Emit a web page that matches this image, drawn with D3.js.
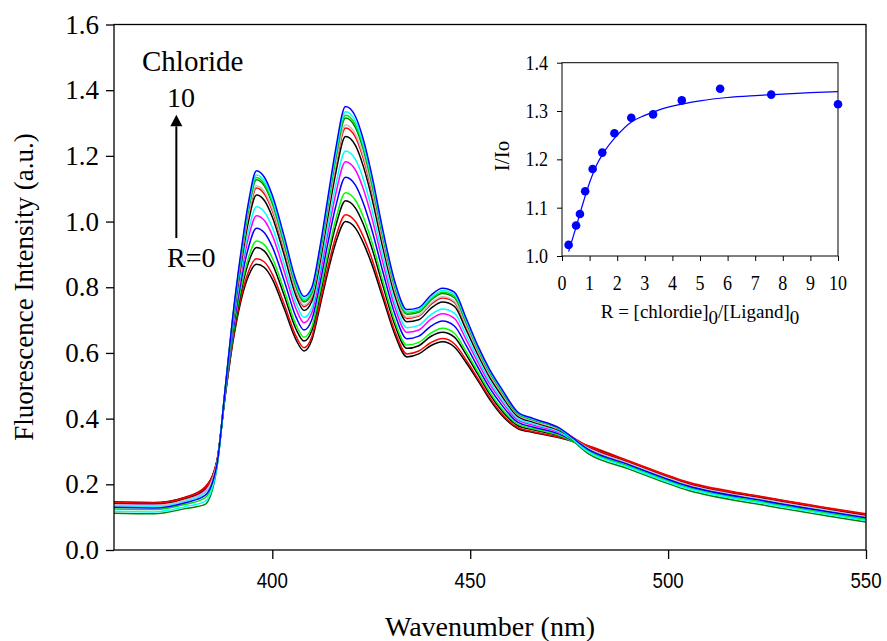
<!DOCTYPE html>
<html><head><meta charset="utf-8">
<script src="https://cdn.jsdelivr.net/npm/d3@7"></script>
<style>body{margin:0;background:#fff}svg{display:block}</style>
</head><body>
<svg id="chart" width="887" height="641"></svg>
<script>
// ---- main spectra data ----
const wavelength = [360,370,378,383,386,388,390,392,394,396,398,400,403,406,408,410,412,414,416,418.5,421,423,425,428,431,434,437,440,443,446,449,452,455,458,462,466,472,480,490,505,525,550];

const s00 = [0.146,0.144,0.160,0.190,0.270,0.460,0.630,0.755,0.835,0.870,0.860,0.825,0.735,0.640,0.606,0.640,0.740,0.845,0.935,1.000,0.980,0.935,0.875,0.765,0.655,0.588,0.597,0.622,0.634,0.618,0.570,0.515,0.457,0.410,0.370,0.358,0.343,0.315,0.270,0.205,0.158,0.108];
const s01 = [0.147,0.145,0.161,0.192,0.271,0.461,0.635,0.764,0.849,0.887,0.877,0.840,0.748,0.651,0.616,0.650,0.751,0.859,0.952,1.021,1.000,0.954,0.892,0.777,0.665,0.597,0.606,0.631,0.644,0.628,0.578,0.521,0.463,0.415,0.373,0.360,0.345,0.317,0.272,0.207,0.160,0.110];
const s02 = [0.145,0.143,0.159,0.189,0.269,0.464,0.644,0.781,0.876,0.921,0.910,0.871,0.775,0.672,0.636,0.669,0.772,0.886,0.986,1.063,1.041,0.992,0.925,0.802,0.684,0.614,0.622,0.650,0.663,0.648,0.594,0.534,0.473,0.424,0.379,0.366,0.349,0.314,0.269,0.204,0.157,0.107];
const s03 = [0.142,0.140,0.156,0.184,0.268,0.465,0.650,0.791,0.891,0.941,0.929,0.889,0.790,0.685,0.648,0.680,0.785,0.901,1.006,1.088,1.065,1.014,0.944,0.816,0.695,0.624,0.632,0.660,0.675,0.660,0.604,0.541,0.480,0.430,0.383,0.369,0.351,0.307,0.262,0.197,0.150,0.100];
const s04 = [0.138,0.136,0.152,0.178,0.265,0.468,0.661,0.811,0.922,0.980,0.966,0.923,0.820,0.709,0.670,0.702,0.809,0.932,1.045,1.135,1.111,1.056,0.981,0.844,0.717,0.643,0.651,0.681,0.697,0.682,0.622,0.555,0.492,0.441,0.389,0.374,0.355,0.307,0.262,0.197,0.150,0.100];
const s05 = [0.140,0.138,0.154,0.181,0.266,0.470,0.672,0.830,0.952,1.018,1.003,0.958,0.849,0.734,0.692,0.723,0.834,0.962,1.083,1.182,1.157,1.099,1.018,0.872,0.738,0.663,0.670,0.702,0.719,0.705,0.640,0.570,0.504,0.452,0.396,0.380,0.360,0.309,0.264,0.199,0.152,0.102];
const s06 = [0.135,0.133,0.149,0.174,0.263,0.472,0.679,0.844,0.973,1.045,1.029,0.982,0.870,0.751,0.708,0.738,0.851,0.983,1.110,1.215,1.189,1.129,1.044,0.891,0.753,0.677,0.684,0.716,0.734,0.721,0.653,0.580,0.513,0.459,0.401,0.384,0.363,0.301,0.256,0.191,0.144,0.094];
const s07 = [0.143,0.141,0.157,0.186,0.268,0.475,0.689,0.862,1.002,1.081,1.064,1.014,0.898,0.773,0.729,0.758,0.873,1.012,1.146,1.259,1.232,1.168,1.079,0.917,0.773,0.695,0.701,0.735,0.755,0.742,0.670,0.593,0.524,0.469,0.407,0.389,0.367,0.313,0.268,0.203,0.156,0.106];
const s08 = [0.145,0.143,0.159,0.189,0.269,0.476,0.695,0.873,1.018,1.102,1.084,1.033,0.914,0.787,0.741,0.770,0.887,1.028,1.167,1.285,1.257,1.192,1.099,0.932,0.785,0.705,0.712,0.747,0.767,0.754,0.680,0.601,0.531,0.475,0.411,0.392,0.369,0.315,0.270,0.205,0.158,0.108];
const s09 = [0.138,0.136,0.152,0.178,0.265,0.477,0.697,0.877,1.024,1.109,1.091,1.039,0.920,0.791,0.745,0.774,0.891,1.034,1.174,1.294,1.266,1.200,1.106,0.937,0.789,0.709,0.715,0.751,0.771,0.758,0.683,0.603,0.533,0.477,0.412,0.393,0.370,0.309,0.264,0.199,0.152,0.102];
const s10 = [0.112,0.110,0.126,0.139,0.250,0.478,0.702,0.886,1.038,1.127,1.108,1.055,0.933,0.802,0.755,0.784,0.902,1.048,1.192,1.315,1.286,1.219,1.123,0.950,0.799,0.718,0.724,0.760,0.781,0.768,0.692,0.610,0.539,0.482,0.415,0.396,0.372,0.292,0.247,0.182,0.135,0.085];
const s11 = [0.125,0.123,0.139,0.159,0.257,0.479,0.704,0.889,1.043,1.134,1.114,1.061,0.939,0.807,0.760,0.788,0.907,1.053,1.199,1.324,1.295,1.226,1.129,0.955,0.803,0.721,0.727,0.764,0.785,0.773,0.695,0.612,0.541,0.484,0.416,0.397,0.373,0.300,0.255,0.190,0.143,0.093];
const s12 = [0.118,0.116,0.132,0.148,0.253,0.479,0.706,0.894,1.050,1.142,1.123,1.069,0.945,0.812,0.765,0.793,0.912,1.060,1.207,1.334,1.305,1.236,1.138,0.961,0.808,0.726,0.732,0.768,0.790,0.778,0.699,0.615,0.544,0.487,0.418,0.398,0.374,0.297,0.252,0.187,0.140,0.090];
const s13 = [0.130,0.128,0.144,0.166,0.260,0.480,0.710,0.900,1.060,1.155,1.135,1.080,0.955,0.820,0.772,0.800,0.920,1.070,1.220,1.350,1.320,1.250,1.150,0.970,0.815,0.732,0.738,0.775,0.797,0.785,0.705,0.620,0.548,0.490,0.420,0.400,0.375,0.305,0.260,0.195,0.148,0.098];

const spectra = [s00,s01,s02,s03,s04,s05,s06,s07,s08,s09,s10,s11,s12,s13];
const lineColors = ["#000000","#ff0000","#000000","#00ff00","#0000ff","#ff00ff","#00ffff","#000000","#ff0000","#c0c0c0","#008000","#00e000","#00ffff","#0000ff"];

const mainXTicks = [400,450,500,550];
const mainYTicks = [0.0,0.2,0.4,0.6,0.8,1.0,1.2,1.4,1.6];

// ---- inset data ----
const ratioR = [0.24,0.51,0.65,0.84,1.11,1.46,1.90,2.51,3.30,4.34,5.73,7.58,10.0];
const ratioI = [1.023,1.063,1.087,1.134,1.180,1.214,1.254,1.286,1.293,1.322,1.346,1.334,1.314];
const fitR = [0.24,0.5,0.75,1,1.25,1.5,2,2.5,3,3.5,4,5,6,7,8,9,10];
const fitI = [1.009,1.058,1.107,1.152,1.188,1.213,1.250,1.277,1.291,1.302,1.310,1.321,1.328,1.332,1.335,1.338,1.340];
const insetXTicks = [0,1,2,3,4,5,6,7,8,9,10];
const insetYTicks = [1.0,1.1,1.2,1.3,1.4];

const SERIF = "'Liberation Serif','Times New Roman',serif";
const SANS = "'Liberation Sans',Arial,sans-serif";

const svg = d3.select("#chart");

function label(parent, x, y, s, o) {
  o = Object.assign({size:20, anchor:"middle", family:SERIF, sx:1, rot:0}, o||{});
  return parent.append("text")
    .attr("transform", `translate(${x},${y}) rotate(${o.rot}) scale(${o.sx},1)`)
    .attr("text-anchor", o.anchor)
    .attr("font-family", o.family)
    .attr("font-size", o.size)
    .attr("fill", "#000")
    .text(s);
}

// ---- main plot ----
const X = d3.scaleLinear().domain([360,550]).range([114,866]);
const Y = d3.scaleLinear().domain([0,1.6]).range([550,24.5]);

svg.append("defs").append("clipPath").attr("id","clipMain")
  .append("rect").attr("x",X(360)).attr("y",Y(1.6)).attr("width",X(550)-X(360)).attr("height",Y(0)-Y(1.6));

const line = d3.line().x((d,i)=>X(wavelength[i])).y(d=>Y(d)).curve(d3.curveMonotoneX);
const gLines = svg.append("g").attr("clip-path","url(#clipMain)");
spectra.forEach((s,k)=>{
  gLines.append("path").attr("d", line(s)).attr("fill","none")
    .attr("stroke", lineColors[k]).attr("stroke-width",1.5).attr("stroke-linejoin","round");
});

// frame
svg.append("rect").attr("x",X(360)).attr("y",Y(1.6)).attr("width",X(550)-X(360)).attr("height",Y(0)-Y(1.6))
  .attr("fill","none").attr("stroke","#000").attr("stroke-width",1.3);

const ax = svg.append("g").attr("transform",`translate(0,${Y(0)})`)
  .call(d3.axisBottom(X).tickValues(mainXTicks).tickSize(9).tickSizeOuter(0).tickFormat(d3.format("d")));
ax.select(".domain").remove();
ax.selectAll("line").attr("stroke","#000").attr("stroke-width",1.3);
ax.selectAll("text").remove();
mainXTicks.forEach(t=>label(svg, X(t), 588, d3.format("d")(t), {size:22, family:SANS, sx:0.85}));

const ay = svg.append("g").attr("transform",`translate(${X(360)},0)`)
  .call(d3.axisLeft(Y).tickValues(mainYTicks).tickSize(8).tickSizeOuter(0));
ay.select(".domain").remove();
ay.selectAll("line").attr("stroke","#000").attr("stroke-width",1.3);
ay.selectAll("text").remove();
mainYTicks.forEach(t=>label(svg, 99, Y(t)+9, d3.format(".1f")(t), {size:27, anchor:"end"}));

label(svg, 490, 636, "Wavenumber (nm)", {size:28});
label(svg, 33, 287, "Fluorescence Intensity (a.u.)", {size:27, rot:-90});

// annotation
label(svg, 142, 71, "Chloride", {size:29, anchor:"start"});
label(svg, 181, 107, "10", {size:28});
label(svg, 167, 267, "R=0", {size:28, anchor:"start"});
const ax0 = X(375.75);
svg.append("line").attr("x1",ax0).attr("x2",ax0).attr("y1",Y(0.95)).attr("y2",Y(1.29))
  .attr("stroke","#000").attr("stroke-width",2);
svg.append("path").attr("d",`M${ax0},${Y(1.325)} L${ax0-6},${Y(1.29)} L${ax0+6},${Y(1.29)} Z`).attr("fill","#000");

// ---- inset ----
const xi = d3.scaleLinear().domain([0,10]).range([562,838]);
const yi = d3.scaleLinear().domain([1.0,1.4]).range([256,62.7]);

svg.append("rect").attr("x",xi(0)).attr("y",yi(1.4)).attr("width",xi(10)-xi(0)).attr("height",yi(1.0)-yi(1.4))
  .attr("fill","none").attr("stroke","#000").attr("stroke-width",1);

const ix = svg.append("g").attr("transform",`translate(0,${yi(1.0)})`)
  .call(d3.axisBottom(xi).tickValues(insetXTicks).tickSize(5).tickSizeOuter(0));
ix.select(".domain").remove(); ix.selectAll("text").remove();
ix.selectAll("line").attr("stroke","#000");
insetXTicks.forEach(t=>label(svg, xi(t), 290, String(t), {size:20, sx:0.9}));

const iy = svg.append("g").attr("transform",`translate(${xi(0)},0)`)
  .call(d3.axisLeft(yi).tickValues(insetYTicks).tickSize(5).tickSizeOuter(0));
iy.select(".domain").remove(); iy.selectAll("text").remove();
iy.selectAll("line").attr("stroke","#000");
insetYTicks.forEach(t=>label(svg, 548, yi(t)+7, d3.format(".1f")(t), {size:20, anchor:"end", sx:0.9}));

label(svg, 509, 156, "I/Io", {size:20, rot:-90, sx:1.05});

const xt = svg.append("text").attr("x",700).attr("y",318).attr("text-anchor","middle")
  .attr("font-family",SERIF).attr("font-size",19).attr("fill","#000");
xt.append("tspan").text("R = [chlordie]");
xt.append("tspan").attr("dy",6).text("0");
xt.append("tspan").attr("dy",-6).text("/[Ligand]");
xt.append("tspan").attr("dy",6).text("0");

const fitLine = d3.line().x((d,i)=>xi(fitR[i])).y(d=>yi(d)).curve(d3.curveMonotoneX);
svg.append("path").attr("d",fitLine(fitI)).attr("fill","none").attr("stroke","#0000ff").attr("stroke-width",1.2);

svg.append("g").selectAll("circle").data(ratioI).join("circle")
  .attr("cx",(d,i)=>xi(ratioR[i])).attr("cy",d=>yi(d)).attr("r",4.3).attr("fill","#0000ff");
</script>
</body></html>
